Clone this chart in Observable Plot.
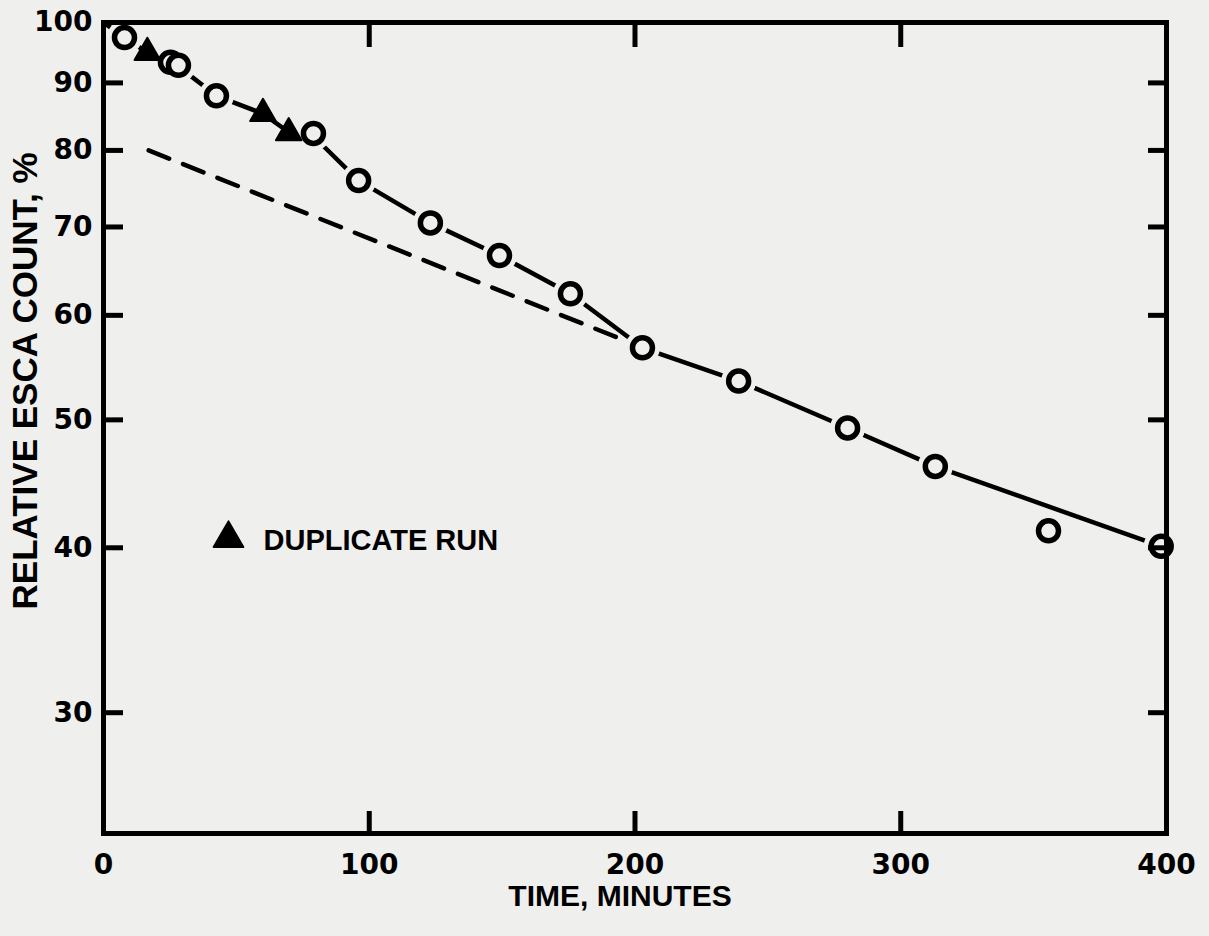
<!DOCTYPE html>
<html><head><meta charset="utf-8">
<script src="https://cdn.jsdelivr.net/npm/d3@7"></script>
<script src="https://cdn.jsdelivr.net/npm/@observablehq/plot@0.6"></script>
<style>html,body{margin:0;padding:0;background:#efefed;overflow:hidden}</style>
</head><body><div id="chart"></div>
<script>
// Main run (open circles)
const circleTime  = [7.9, 25.2, 28.2, 42.5, 79, 96, 123, 149, 175.7, 202.8, 239, 280, 313, 355.6, 398];
const circleCount = [97.4, 93.3, 92.8, 88.0, 82.4, 75.9, 70.5, 66.6, 62.3, 56.7, 53.5, 49.3, 46.1, 41.2, 40.1];
// Duplicate run (filled triangles)
const duplicateTime  = [16.5, 60, 69.7];
const duplicateCount = [94.9, 85.3, 82.5];
// Hand-drawn solid curve
const fitTime  = [0, 7.9, 16.5, 27, 42.5, 60, 70, 79, 96, 123, 149, 175.7, 202.8, 239, 280, 313, 398];
const fitCount = [100, 97.4, 94.9, 93, 88.0, 85.3, 82.5, 82.0, 75.9, 70.5, 66.6, 62.3, 56.7, 53.5, 49.3, 46.1, 40.1];
// Dashed extrapolation
const extrapTime  = [17, 203];
const extrapCount = [80, 56.7];
// Axes
const xTicks = [0, 100, 200, 300, 400];
const yTicks = [30, 40, 50, 60, 70, 80, 90, 100];
const xInnerTicks = [100, 200, 300];
const yInnerTicks = [30, 40, 50, 60, 70, 80, 90];
const xLabel = "TIME, MINUTES";
const yLabel = "RELATIVE ESCA COUNT, %";
const legendLabel = "DUPLICATE RUN";

const BG = "#efefed";
const W = 1209, H = 936;
const mL = 103, mR = 43, mT = 22, mB = 103;
const iW = W - mL - mR, iH = H - mT - mB;

const circles = circleTime.map((t, i) => ({t, v: circleCount[i]}));
const dups = duplicateTime.map((t, i) => ({t, v: duplicateCount[i]}));
const fit = fitTime.map((t, i) => ({t, v: fitCount[i]}));
const extrap = extrapTime.map((t, i) => ({t, v: extrapCount[i]}));

const numFont = {fontFamily: "'DejaVu Sans', Verdana, sans-serif", fontWeight: "bold", fontSize: 28, fill: "black", lineAnchor: "middle"};
const txtFont = {fontFamily: "'Liberation Sans', Arial, sans-serif", fontWeight: "bold", fill: "black", lineAnchor: "middle"};

const chart = Plot.plot({
  width: W, height: H,
  marginLeft: mL, marginRight: mR, marginTop: mT, marginBottom: mB,
  style: {background: BG, overflow: "visible"},
  x: {domain: [0, 400], axis: null},
  y: {type: "log", domain: [24.3, 100], axis: null},
  marks: [
    Plot.line(extrap, {x: "t", y: "v", stroke: "black", strokeWidth: 4.5, strokeDasharray: "22 15"}),
    Plot.line(fit, {x: "t", y: "v", stroke: "black", strokeWidth: 4.5}),
    Plot.dot(circles, {x: "t", y: "v", r: 10, fill: BG, stroke: BG, strokeWidth: 15}),
    Plot.dot(circles, {x: "t", y: "v", r: 10, fill: BG, stroke: "black", strokeWidth: 5.5}),
    Plot.dot(dups, {x: "t", y: "v", r: 9.5, symbol: "triangle", fill: "black", stroke: "black", strokeWidth: 2, strokeLinejoin: "round"}),
    // frame and inner ticks
    Plot.frame({stroke: "black", strokeWidth: 5}),
    Plot.tickY(yInnerTicks, {y: d => d, insetRight: iW - 20, stroke: "black", strokeWidth: 5}),
    Plot.tickY(yInnerTicks, {y: d => d, insetLeft: iW - 18, stroke: "black", strokeWidth: 5}),
    Plot.tickX(xInnerTicks, {x: d => d, insetBottom: iH - 25, stroke: "black", strokeWidth: 5}),
    Plot.tickX(xInnerTicks, {x: d => d, insetTop: iH - 22, stroke: "black", strokeWidth: 5}),
    // tick labels
    Plot.text(yTicks, {y: d => d, text: d => String(d), frameAnchor: "left", dx: -11, textAnchor: "end", ...numFont}),
    Plot.text(xTicks, {x: d => d, text: d => String(d), frameAnchor: "bottom", dy: 32, textAnchor: "middle", ...numFont}),
    // axis titles
    Plot.text([xLabel], {text: d => d, frameAnchor: "bottom", dx: -15, dy: 63, textAnchor: "middle", fontSize: 30, ...txtFont}),
    Plot.text([yLabel], {text: d => d, frameAnchor: "left", dx: -78, dy: -47, rotate: -90, textAnchor: "middle", fontSize: 35, ...txtFont}),
    // legend
    Plot.dot([legendLabel], {frameAnchor: "top-left", dx: 125, dy: 516, r: 11, symbol: "triangle", fill: "black", stroke: "black", strokeWidth: 2, strokeLinejoin: "round"}),
    Plot.text([legendLabel], {text: d => d, frameAnchor: "top-left", dx: 160, dy: 518, textAnchor: "start", fontSize: 29, ...txtFont})
  ]
});
document.getElementById("chart").appendChild(chart);
</script>
</body></html>
